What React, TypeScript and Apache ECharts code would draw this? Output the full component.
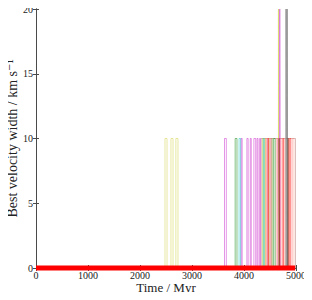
import React, { useEffect, useRef } from "react";
import * as echarts from "echarts";

// Time axis ticks (Myr) and velocity-width ticks (km/s)
const xTicks = [0, 1000, 2000, 3000, 4000, 5000];
const yTicks = [0, 5, 10, 15, 20];

// Each pulse: [time up (Myr), time down (Myr), best velocity width (km/s)]
const yellowPulses = [[2480, 2520, 10], [2595, 2635, 10], [2690, 2730, 10], [4355, 4370, 10], [4400, 4420, 10], [4475, 4495, 10], [4662, 4668, 20]];
const magentaPulses = [[3625, 3660, 10], [3945, 3965, 10], [4055, 4080, 10], [4120, 4140, 10], [4190, 4225, 10], [4250, 4270, 10], [4300, 4320, 10], [4688, 4695, 20]];
const pinkPulses = [[4445, 4460, 10], [4495, 4515, 10], [4645, 4660, 10]];
const greenPulses = [[3830, 3865, 10], [4570, 4600, 10]];
const lightGreenPulses = [[4530, 4550, 10]];
const cyanPulses = [[3905, 3935, 10], [4372, 4392, 10]];
const redPulses = [[4458, 4472, 10], [4745, 4760, 10], [4880, 4900, 10]];
const salmonPulses = [[4415, 4435, 10], [4515, 4535, 10], [4620, 4640, 10], [4700, 4725, 10], [4775, 4795, 10], [4860, 4880, 10], [4930, 4960, 10]];
const darkRedPulses = [[4675, 4685, 10], [4840, 4855, 10]];
const grayPulses = [[4805, 4812, 20]];
const darkGrayPulses = [[4828, 4835, 20]];
const plateauPulses = [[4330, 4990, 10]];
const baseline = [[0, 0], [4985, 0]];

function pulsesToData(p: number[][]) {
  const out: number[][] = [];
  p.forEach(([a, b, h]) => {
    out.push([a, 0], [a, h], [b, h], [b, 0]);
  });
  return out;
}

const groups: { name: string; pulses: number[][]; color: string; opacity: number }[] = [
  { name: "plateau", pulses: plateauPulses, color: "#a0524a", opacity: 0.55 },
  { name: "yellow", pulses: yellowPulses, color: "#c8c820", opacity: 0.6 },
  { name: "magenta", pulses: magentaPulses, color: "#c000c0", opacity: 0.6 },
  { name: "pink", pulses: pinkPulses, color: "#e060c8", opacity: 0.5 },
  { name: "green", pulses: greenPulses, color: "#008000", opacity: 0.7 },
  { name: "lightgreen", pulses: lightGreenPulses, color: "#60b040", opacity: 0.6 },
  { name: "cyan", pulses: cyanPulses, color: "#00bfbf", opacity: 0.65 },
  { name: "red", pulses: redPulses, color: "#ff0000", opacity: 0.65 },
  { name: "salmon", pulses: salmonPulses, color: "#ff6050", opacity: 0.45 },
  { name: "darkred", pulses: darkRedPulses, color: "#8b1a00", opacity: 0.75 },
  { name: "gray", pulses: grayPulses, color: "#909090", opacity: 0.9 },
  { name: "darkgray", pulses: darkGrayPulses, color: "#606060", opacity: 0.9 },
];

const axisColor = "#4a4a4a";
const font = "'Liberation Serif', 'DejaVu Serif', serif";

export default function App() {
  const ref = useRef<HTMLDivElement>(null);
  useEffect(() => {
    if (!ref.current) return;
    const chart = echarts.init(ref.current, null, { renderer: "svg" });
    const xCommon = {
      type: "value" as const,
      min: xTicks[0],
      max: xTicks[xTicks.length - 1],
      interval: 1000,
      splitLine: { show: false },
      axisLine: { show: true, lineStyle: { color: axisColor, width: 1 } },
      axisTick: { show: true, inside: true, length: 3, lineStyle: { color: axisColor } },
    };
    const yCommon = {
      type: "value" as const,
      min: yTicks[0],
      max: yTicks[yTicks.length - 1],
      interval: 5,
      splitLine: { show: false },
      axisLine: { show: true, lineStyle: { color: axisColor, width: 1 } },
      axisTick: { show: true, inside: true, length: 3, lineStyle: { color: axisColor } },
    };
    const series: any[] = groups.map((g) => ({
      name: g.name,
      type: "line",
      data: pulsesToData(g.pulses),
      symbol: "none",
      showSymbol: false,
      lineStyle: { color: g.color, width: 0.7, opacity: g.opacity },
      itemStyle: { color: g.color },
      xAxisIndex: 0,
      yAxisIndex: 0,
      silent: true,
    }));
    series.push({
      name: "baseline",
      type: "line",
      data: baseline,
      symbol: "none",
      showSymbol: false,
      clip: false,
      z: 10,
      lineStyle: { color: "#ff0000", width: 5 },
      itemStyle: { color: "#ff0000" },
      xAxisIndex: 0,
      yAxisIndex: 0,
      silent: true,
    });
    chart.setOption({
      animation: false,
      backgroundColor: "#ffffff",
      grid: { left: 36, right: 16, top: 9, bottom: 32, containLabel: false, outerBoundsMode: "none" },
      xAxis: [
        {
          ...xCommon,
          position: "bottom",
          name: "Time / Myr",
          nameLocation: "middle",
          nameGap: 13,
          nameMoveOverlap: false,
          nameTextStyle: { fontFamily: font, fontSize: 13, color: "#222" },
          axisLabel: { fontFamily: font, fontSize: 10, color: "#222", margin: 2, formatter: (v: number) => String(v) },
        },
        { ...xCommon, position: "top", axisLabel: { show: false } },
      ],
      yAxis: [
        {
          ...yCommon,
          position: "left",
          name: "Best velocity width / km s⁻¹",
          nameLocation: "middle",
          nameRotate: 90,
          nameGap: 17,
          nameMoveOverlap: false,
          nameTextStyle: { fontFamily: font, fontSize: 14, color: "#222" },
          axisLabel: { fontFamily: font, fontSize: 10, color: "#222", margin: 3, formatter: (v: number) => String(v) },
        },
        { ...yCommon, position: "right", axisLabel: { show: false } },
      ],
      series,
    });
    return () => chart.dispose();
  }, []);
  return <div ref={ref} style={{ width: 312, height: 300, margin: -8 }} />;
}
